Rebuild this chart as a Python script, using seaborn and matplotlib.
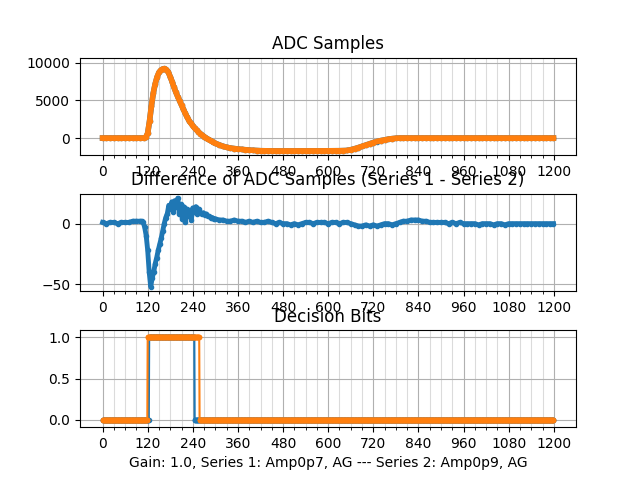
import numpy as np
import matplotlib
matplotlib.use('Agg')
import matplotlib.pyplot as plt
import seaborn as sns

# sample positions (denser where the pulse is steep)
adc_x = np.r_[0:110:10, 110:300:5, 300:1200:10, 1199]
diff_x = np.r_[0:100:10, 100:300:4, 300:1200:10, 1199]

# ADC samples, series 2 (series 1 = series 2 + difference)
adc_s2 = [0, 0, 0, 0, 0, 0, 0, 0, 0, 0, 0,
          0, 100, 650, 2300, 4300, 6000, 7200, 8100, 8700, 9000,
          9150, 9200, 9050, 8700, 8100, 7450, 6700, 6050, 5450, 4900,
          4350, 3800, 3250, 2750, 2300, 1950, 1600, 1300, 1050, 800,
          580, 380, 190, 20, -150, -300, -440, -580,
          -700, -900, -1100, -1230, -1330, -1400, -1460, -1510, -1560, -1600,
          -1630, -1660, -1680, -1690, -1700, -1700, -1710, -1710, -1710, -1720,
          -1720, -1720, -1710, -1710, -1710, -1700, -1700, -1700, -1700, -1690,
          -1690, -1690, -1680, -1680, -1670, -1650, -1550, -1420, -1270, -1100,
          -920, -750, -600, -460, -340, -240, -150, -80, -30, 0,
          0, 0, 0, 0, 0, 0, 0, 0, 0, 0,
          0, 0, 0, 0, 0, 0, 0, 0, 0, 0,
          0, 0, 0, 0, 0, 0, 0, 0, 0, 0,
          0, 0, 0, 0, 0, 0, 0, 0, 0, 0, 0]

diff_vals = [1, 0, 1, 1, 0, 1, 1, 1, 2, 2,
             2, 2, 1, -3, -10, -22, -40, -52, -45, -40,
             -33, -28, -22, -17, -12, -6, 0, 5, 8, 15,
             12, 18, 10, 19, 14, 21, 8, 16, 4, 14,
             1, 12, 6, 11, 3, 13, 10, 14, 8, 12,
             9, 8, 9, 7, 8, 6, 6, 5, 5, 4,
             4, 3, 3, 2, 2, 3, 2, 2, 1, 2,
             1, 2, 1, 1, 2, 1, 0, 1, 0, 0,
             -1, 0, -1, 0, 1, 1, 0, 1, 1, 1,
             0, 1, 1, 0, 1, 1, 0, -1, -2, -2,
             -1, -2, -1, -2, -1, 0, 0, -1, 0, 1,
             2, 2, 3, 3, 3, 2, 2, 1, 1, 1,
             1, 1, 0, 1, 0, 1, 0, 0, 0, 0,
             -1, 0, 0, 0, -1, 0, 0, -1, 0, 0,
             0, 0, 0, 0, 0, 0, 0, 0, 0, 0, 0]

# decision bits as run lengths (value, length)
bits1_vals = [0, 1, 0]
bits1_lens = [124, 121, 955]
bits2_vals = [0, 1, 0]
bits2_lens = [120, 138, 942]

adc_s2 = np.array(adc_s2, dtype=float)
diff_vals = np.array(diff_vals, dtype=float)
adc_s1 = adc_s2 + np.interp(adc_x, diff_x, diff_vals)
bits_x = np.arange(1200)
bits1 = np.repeat(bits1_vals, bits1_lens)
bits2 = np.repeat(bits2_vals, bits2_lens)

fig, axes = plt.subplots(3, 1, figsize=(6.4, 4.8))
plt.subplots_adjust(hspace=0.4)

def style(ax):
    ax.set_xticks(np.arange(0, 1201, 120))
    ax.set_xticks(np.arange(0, 1201, 30), minor=True)
    ax.grid(which='major', color='#b0b0b0', lw=0.8)
    ax.grid(which='minor', axis='x', color='#b0b0b0', lw=0.8, alpha=0.45)
    ax.set_axisbelow(True)
    ax.set_xlim(-60, 1259)

ax = axes[0]
sns.lineplot(x=adc_x, y=adc_s1, ax=ax, color='C0', marker='.', lw=4,
             markersize=6, mec='C0', mew=1)
sns.lineplot(x=adc_x, y=adc_s2, ax=ax, color='C1', marker='.', lw=4,
             markersize=6, mec='C1', mew=1)
ax.set_ylim(-2230, 10650)
ax.set_title('ADC Samples')
style(ax)

ax = axes[1]
sns.lineplot(x=diff_x, y=diff_vals, ax=ax, color='C0', marker='.', lw=3.5,
             markersize=6, mec='C0', mew=1)
ax.set_title('Difference of ADC Samples (Series 1 - Series 2)')
style(ax)

ax = axes[2]
sns.lineplot(x=bits_x, y=bits1, ax=ax, color='C0', marker='.',
             markersize=6, mec='C0', mew=1)
sns.lineplot(x=bits_x, y=bits2, ax=ax, color='C1', marker='.',
             markersize=6, mec='C1', mew=1)
ax.set_ylim(-0.09, 1.09)
ax.set_title('Decision Bits')
ax.set_xlabel('Gain: 1.0, Series 1: Amp0p7, AG --- Series 2: Amp0p9, AG')
style(ax)

fig.savefig('out.png', dpi=100)
